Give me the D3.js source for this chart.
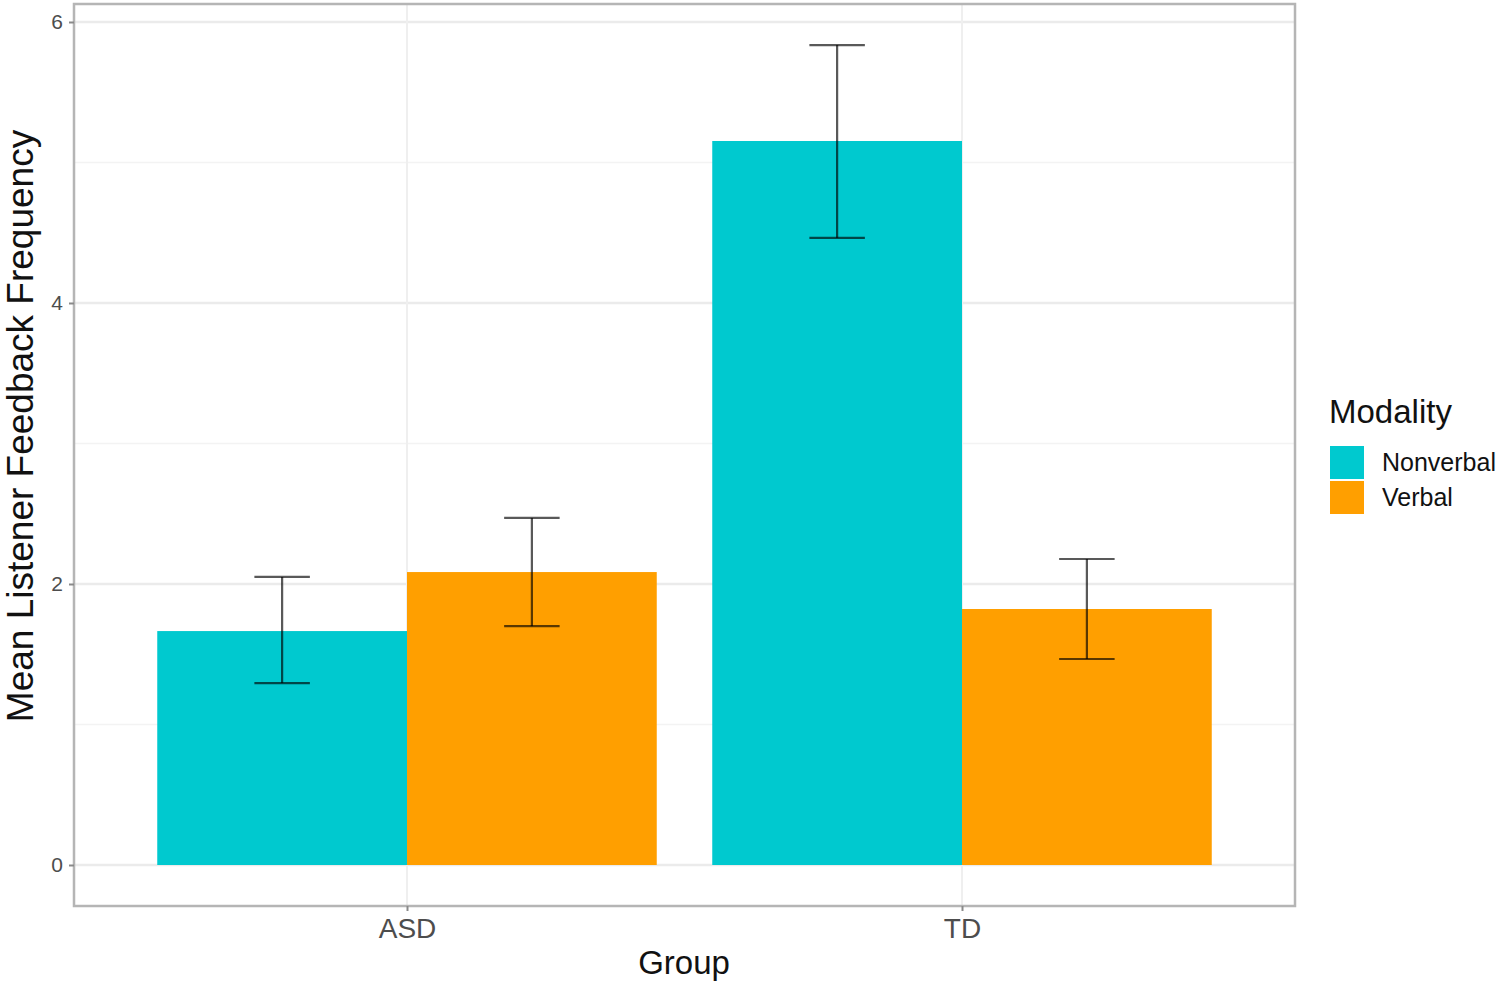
<!DOCTYPE html>
<html>
<head>
<meta charset="utf-8">
<script src="https://cdn.jsdelivr.net/npm/d3@7"></script>
<style>
  body { margin: 0; background: #fff; }
  text { font-family: "Liberation Sans", Arial, sans-serif; }
</style>
</head>
<body>
<svg></svg>
<script>
// data
const groups = ["ASD", "TD"];
const modalities = ["Nonverbal", "Verbal"];
const nonverbalMean = [1.665, 5.153];
const nonverbalLow = [1.295, 4.463];
const nonverbalHigh = [2.05, 5.836];
const verbalMean = [2.085, 1.822];
const verbalLow = [1.70, 1.466];
const verbalHigh = [2.47, 2.178];
const yTicks = [0, 2, 4, 6];
const yMinor = [1, 3, 5];
const colors = ["#00C9CF", "#FF9F00"];

const svgWidth = 1504, svgHeight = 995;
const panel = {left: 74, right: 1295, top: 4, bottom: 906};

const svg = d3.select("svg").attr("width", svgWidth).attr("height", svgHeight);

// continuous x like ggplot: categories at 1,2 with 0.6 expansion
const x = d3.scaleLinear().domain([0.4, 2.6]).range([panel.left, panel.right]);
const y = d3.scaleLinear().domain([-0.2918, 6.128]).range([panel.bottom, panel.top]);

const rows = [];
groups.forEach((g, i) => {
  rows.push({g: i + 1, m: 0, mean: nonverbalMean[i], lo: nonverbalLow[i], hi: nonverbalHigh[i]});
  rows.push({g: i + 1, m: 1, mean: verbalMean[i], lo: verbalLow[i], hi: verbalHigh[i]});
});
const barW = 0.45;
const cx = d => d.g - barW / 2 + d.m * barW;

// grid
const grid = svg.append("g");
grid.selectAll(".minor").data(yMinor).join("line")
  .attr("x1", panel.left).attr("x2", panel.right)
  .attr("y1", d => y(d)).attr("y2", d => y(d))
  .attr("stroke", "#f3f3f3").attr("stroke-width", 1.5);
grid.selectAll(".major").data(yTicks).join("line")
  .attr("x1", panel.left).attr("x2", panel.right)
  .attr("y1", d => y(d)).attr("y2", d => y(d))
  .attr("stroke", "#ebebeb").attr("stroke-width", 2.5);
grid.selectAll(".vx").data([1, 2]).join("line")
  .attr("x1", d => x(d)).attr("x2", d => x(d))
  .attr("y1", panel.top).attr("y2", panel.bottom)
  .attr("stroke", "#efefef").attr("stroke-width", 2);

// bars
svg.append("g").selectAll("rect").data(rows).join("rect")
  .attr("x", d => x(cx(d) - barW / 2))
  .attr("width", d => x(barW) - x(0))
  .attr("y", d => y(d.mean))
  .attr("height", d => y(0) - y(d.mean))
  .attr("fill", d => colors[d.m]);

// error bars
const eb = svg.append("g").attr("stroke", "#000").attr("stroke-opacity", 0.65).attr("stroke-width", 2.2);
rows.forEach(d => {
  const c = cx(d);
  eb.append("line").attr("x1", x(c)).attr("x2", x(c)).attr("y1", y(d.lo)).attr("y2", y(d.hi));
  eb.append("line").attr("x1", x(c - 0.05)).attr("x2", x(c + 0.05)).attr("y1", y(d.hi)).attr("y2", y(d.hi));
  eb.append("line").attr("x1", x(c - 0.05)).attr("x2", x(c + 0.05)).attr("y1", y(d.lo)).attr("y2", y(d.lo));
});

// panel border
svg.append("rect")
  .attr("x", panel.left).attr("y", panel.top)
  .attr("width", panel.right - panel.left).attr("height", panel.bottom - panel.top)
  .attr("fill", "none").attr("stroke", "#b5b5b5").attr("stroke-width", 2.5);

// y axis
const yAxis = svg.append("g").attr("transform", `translate(${panel.left},0)`)
  .call(d3.axisLeft(y).tickValues(yTicks).tickFormat(d3.format("d")).tickSize(5).tickPadding(6));
yAxis.select(".domain").remove();
yAxis.selectAll("line").attr("stroke", "#8a8a8a").attr("stroke-width", 2);
yAxis.selectAll("text").attr("fill", "#4d4d4d").attr("font-size", 21);

// x axis
const xAxis = svg.append("g").attr("transform", `translate(0,${panel.bottom})`)
  .call(d3.axisBottom(x).tickValues([1, 2]).tickFormat(d => groups[d - 1]).tickSize(5).tickPadding(7));
xAxis.select(".domain").remove();
xAxis.selectAll("line").attr("stroke", "#8a8a8a").attr("stroke-width", 2);
xAxis.selectAll("text").attr("fill", "#4d4d4d").attr("font-size", 28);

// titles
svg.append("text").attr("x", 684).attr("y", 974)
  .attr("text-anchor", "middle").attr("font-size", 33).attr("fill", "#111").text("Group");
svg.append("text")
  .attr("transform", "translate(33,426) rotate(-90)")
  .attr("text-anchor", "middle").attr("font-size", 37).attr("fill", "#111")
  .text("Mean Listener Feedback Frequency");

// legend
const lg = svg.append("g").attr("transform", "translate(1329,0)");
lg.append("text").attr("x", 0).attr("y", 423).attr("font-size", 33).attr("fill", "#111").text("Modality");
modalities.forEach((m, i) => {
  lg.append("rect").attr("x", 1).attr("y", 446 + i * 35).attr("width", 34).attr("height", 33).attr("fill", colors[i]);
  lg.append("text").attr("x", 53).attr("y", 471 + i * 35).attr("font-size", 25).attr("fill", "#111").text(m);
});
</script>
</body>
</html>
